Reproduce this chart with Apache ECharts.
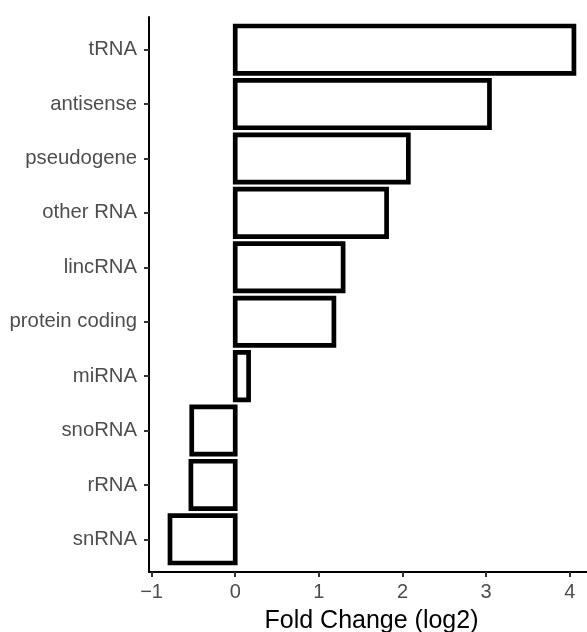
<!DOCTYPE html>
<html>
<head>
<meta charset="utf-8">
<script src="https://cdn.jsdelivr.net/npm/echarts@6/dist/echarts.min.js"></script>
<style>html,body{margin:0;padding:0;background:#fff;}#c{width:587px;height:632px;}</style>
</head>
<body>
<div id="c"></div>
<script>
const categories = ['tRNA','antisense','pseudogene','other RNA','lincRNA','protein coding','miRNA','snoRNA','rRNA','snRNA'];
const foldChange = [4.05, 3.04, 2.07, 1.81, 1.29, 1.18, 0.16, -0.52, -0.53, -0.78];
const xTicks = [-1, 0, 1, 2, 3, 4];
const xTitle = 'Fold Change (log2)';

const FONT = '"Liberation Sans", Arial, Helvetica, sans-serif';
const chart = echarts.init(document.getElementById('c'), null, {renderer: 'canvas'});
const data = foldChange.map((v, i) => [v, i]);
const catIdx = categories.map((c, i) => i);

chart.setOption({
  animation: false,
  backgroundColor: '#fff',
  grid: {left: 149, right: -7, top: 17, bottom: 60, containLabel: false, outerBoundsMode: 'none'},
  xAxis: {
    type: 'value', min: -1.031, max: 4.29,
    splitLine: {show: false},
    axisLine: {show: true, onZero: false, lineStyle: {color: '#000', width: 2}},
    axisTick: {show: true, length: 5, lineStyle: {color: '#333', width: 2}, customValues: xTicks},
    axisLabel: {customValues: xTicks, color: '#4D4D4D', fontSize: 20, fontFamily: FONT, margin: 10,
      formatter: v => String(v).replace('-', '\u2212')},
    name: xTitle, nameLocation: 'middle', nameGap: 37,
    nameTextStyle: {color: '#000', fontSize: 25, fontFamily: FONT}
  },
  yAxis: {
    type: 'value', min: -0.6, max: 9.6, inverse: true,
    splitLine: {show: false},
    axisLine: {show: true, onZero: false, lineStyle: {color: '#000', width: 2}},
    axisTick: {show: true, length: 5, lineStyle: {color: '#333', width: 2}, customValues: catIdx},
    axisLabel: {customValues: catIdx, color: '#4D4D4D', fontSize: 20.3, fontFamily: FONT, margin: 12,
      formatter: v => categories[Math.round(v)]}
  },
  series: [{
    type: 'custom',
    data: data,
    encode: {x: 0, y: 1},
    renderItem: function (params, api) {
      const v = api.value(0), i = api.value(1);
      const p0 = api.coord([0, i]);
      const p1 = api.coord([v, i]);
      const h = api.size([0, 0.87])[1];
      return {
        type: 'rect',
        shape: {x: Math.min(p0[0], p1[0]), y: p0[1] - h / 2, width: Math.abs(p1[0] - p0[0]), height: h},
        style: {fill: '#fff', stroke: '#000', lineWidth: 4.7, lineJoin: 'miter'}
      };
    }
  }]
});
</script>
</body>
</html>
